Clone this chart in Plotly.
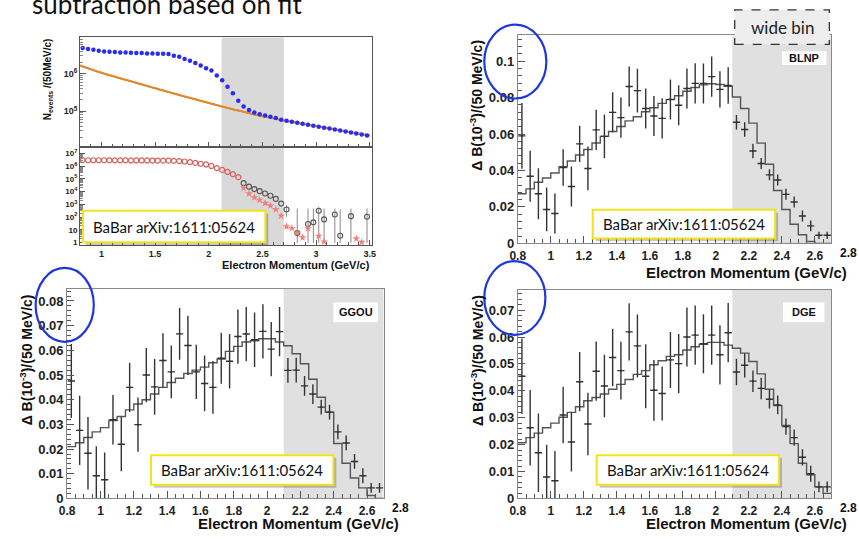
import numpy as np
import plotly.graph_objects as go

W, H = 859, 539
def X(px): return px / W
def Y(py): return 1 - py / H

# ---------------- top-left: spectrum + fit (log) ----------------
tl_centers = np.round(0.825 + 0.05 * np.arange(54), 3)
blue_counts = [4.84e6, 4.55e6, 4.37e6, 4.11e6, 3.95e6, 3.87e6, 3.79e6, 3.72e6, 3.72e6, 3.64e6,
               3.57e6, 3.57e6, 3.50e6, 3.50e6, 3.43e6, 3.43e6, 3.36e6,
               3.03e6, 2.86e6, 2.48e6, 2.24e6, 1.95e6, 1.66e6, 1.41e6, 1.22e6, 9.0e5, 6.7e5,
               4.5e5, 3.0e5, 1.9e5, 1.33e5, 1.08e5, 9.2e4, 8.3e4, 7.7e4, 7.1e4, 6.55e4, 5.9e4,
               5.57e4, 5.24e4, 4.93e4, 4.64e4, 4.37e4, 4.11e4, 3.87e4, 3.64e4, 3.43e4, 3.23e4,
               3.04e4, 2.86e4, 2.69e4, 2.53e4, 2.38e4, 2.24e4]
fit_x = [0.8, 1.0, 1.25, 1.5, 1.75, 2.0, 2.25, 2.5, 2.75, 3.0, 3.25, 3.5]
fit_y = [1.66e6, 1.06e6, 6.6e5, 4.1e5, 2.6e5, 1.65e5, 1.08e5, 7.3e4, 5.3e4, 4.0e4, 3.0e4, 2.25e4]

red_counts = [3.1e6, 3.0e6, 3.0e6, 3.0e6, 3.0e6, 2.95e6, 2.95e6, 2.95e6, 2.95e6, 2.9e6,
              2.9e6, 2.9e6, 2.9e6, 2.85e6, 2.85e6, 2.8e6, 2.8e6, 2.7e6, 2.6e6, 2.4e6,
              2.15e6, 1.85e6, 1.6e6, 1.4e6, 1.07e6, 7.2e5, 5.2e5, 3.6e5, 2.4e5, 1.4e5]
black_x = [2.325, 2.375, 2.425, 2.475, 2.525, 2.575, 2.625, 2.675, 2.725, 2.825, 2.925,
           2.975, 3.025, 3.075, 3.175, 3.225, 3.325, 3.475]
black_y = [4.7e4, 2.5e4, 1.6e4, 1.1e4, 7.2e3, 4.8e3, 2.7e3, 1.15e3, 390, 5.4, 28, 38, 310,
           65, 160, 3.3, 117, 105]
black_top = [4.7e4, 2.5e4, 1.6e4, 1.1e4, 7.2e3, 4.8e3, 2.7e3, 1.15e3, 850, 470, 470, 470,
             600, 470, 470, 400, 470, 470]
black_bot = [4.7e4, 2.5e4, 1.6e4, 1.1e4, 7.2e3, 4.8e3, 2.7e3, 1.15e3, 105, 0.9, 0.9, 0.9,
             0.9, 0.9, 0.9, 0.9, 0.9, 0.9]
star_x = [2.325, 2.375, 2.425, 2.475, 2.525, 2.575, 2.625, 2.675, 2.725, 2.775, 2.825,
          2.875, 2.925, 3.025, 3.075, 3.375, 3.425]
star_y = [2.0e4, 7.1e3, 3.5e3, 2.2e3, 1.26e3, 790, 400, 126, 17.8, 13.2, 5.4, 2.4, 12.6,
          3.2, 1.12, 2.0, 1.05]

# ---------------- unfolded spectra (0.8 - 2.7 GeV, 50 MeV bins) ----------------
edges = np.round(np.arange(0.8, 2.7001, 0.05), 3)
centers = np.round(edges[:-1] + 0.025, 3)

blnp_pts = [0.0590, 0.0368, 0.0272, 0.0186, 0.0164, 0.0416, 0.0312, 0.0546, 0.0411, 0.0623,
            0.0587, 0.0719, 0.0690, 0.0861, 0.0838, 0.0740, 0.0699, 0.0686, 0.0790, 0.0758,
            0.0850, 0.0878, 0.0877, 0.0915, 0.0845, 0.0866, 0.0665, 0.0625, 0.0507, 0.0438,
            0.0376, 0.0348, 0.0269, 0.0227, 0.0150, 0.0096, 0.0044, 0.0044]
blnp_err = [0.018, 0.014, 0.014, 0.012, 0.011, 0.010, 0.011, 0.010, 0.012, 0.011, 0.012, 0.011,
            0.011, 0.011, 0.012, 0.011, 0.011, 0.011, 0.011, 0.011, 0.011, 0.011, 0.011, 0.011,
            0.010, 0.010, 0.004, 0.004, 0.004, 0.003, 0.003, 0.003, 0.003, 0.003, 0.003, 0.003,
            0.002, 0.002]
blnp_hist = [0.0272, 0.0299, 0.0335, 0.0359, 0.0386, 0.0420, 0.0452, 0.0485, 0.0515, 0.0551,
             0.0587, 0.0614, 0.0641, 0.0672, 0.0695, 0.0722, 0.0744, 0.0768, 0.0789, 0.0810,
             0.0835, 0.0855, 0.0870, 0.0876, 0.0872, 0.0862, 0.0803, 0.0740, 0.0660, 0.0550,
             0.0434, 0.0290, 0.0186, 0.0105, 0.0047, 0.0010, 0.0, 0.0]

ggou_pts = [0.0476, 0.0276, 0.0183, 0.0092, 0.0076, 0.0319, 0.0220, 0.0450, 0.0299, 0.0500,
            0.0452, 0.0559, 0.0513, 0.0667, 0.0620, 0.0513, 0.0466, 0.0450, 0.0568, 0.0556,
            0.0656, 0.0666, 0.0643, 0.0677, 0.0605, 0.0676, 0.0519, 0.0520, 0.0456, 0.0423,
            0.0370, 0.0350, 0.0270, 0.0225, 0.0150, 0.0092, 0.0043, 0.0043]
ggou_err = [0.015, 0.014, 0.0147, 0.012, 0.011, 0.010, 0.011, 0.010, 0.011, 0.011, 0.0113,
            0.011, 0.0107, 0.0105, 0.012, 0.011, 0.0113, 0.0107, 0.0103, 0.011, 0.011, 0.011,
            0.011, 0.011, 0.011, 0.010, 0.005, 0.005, 0.004, 0.004, 0.003, 0.003, 0.003, 0.003,
            0.003, 0.003, 0.002, 0.002]
ggou_hist = [0.0210, 0.0226, 0.0247, 0.0270, 0.0287, 0.0316, 0.0332, 0.0359, 0.0383, 0.0400,
             0.0423, 0.0450, 0.0470, 0.0487, 0.0506, 0.0520, 0.0532, 0.0550, 0.0565, 0.0596,
             0.0616, 0.0634, 0.0639, 0.0647, 0.0647, 0.0634, 0.0619, 0.0586, 0.0546, 0.0483,
             0.0410, 0.0350, 0.0223, 0.0143, 0.0083, 0.0043, 0.0012, 0.0]

dge_pts = [0.0454, 0.0263, 0.0170, 0.0080, 0.0066, 0.0310, 0.0210, 0.0434, 0.0277, 0.0473,
           0.0418, 0.0524, 0.0475, 0.0619, 0.0567, 0.0454, 0.0402, 0.0390, 0.0515, 0.0501,
           0.0600, 0.0607, 0.0575, 0.0607, 0.0534, 0.0616, 0.0470, 0.0495, 0.0436, 0.0409,
           0.0369, 0.0348, 0.0267, 0.0226, 0.0153, 0.0092, 0.0043, 0.0043]
dge_err = [0.014, 0.014, 0.0146, 0.012, 0.011, 0.0105, 0.011, 0.011, 0.0116, 0.011, 0.0116,
           0.0107, 0.0107, 0.0106, 0.0117, 0.0119, 0.0113, 0.010, 0.0104, 0.011, 0.011, 0.011,
           0.011, 0.011, 0.011, 0.011, 0.0049, 0.0045, 0.004, 0.004, 0.0035, 0.0035, 0.003,
           0.003, 0.003, 0.003, 0.002, 0.002]
dge_hist = [0.0207, 0.0226, 0.0243, 0.0263, 0.0280, 0.0302, 0.0320, 0.0341, 0.0363, 0.0375,
            0.0388, 0.0406, 0.0424, 0.0442, 0.0461, 0.0475, 0.0497, 0.0512, 0.0528, 0.0534,
            0.0552, 0.0564, 0.0573, 0.0580, 0.0580, 0.0570, 0.0558, 0.0540, 0.0509, 0.0463,
            0.0406, 0.0345, 0.0271, 0.0204, 0.0131, 0.0088, 0.0043, 0.0019]

panel_labels = ["BLNP", "GGOU", "DGE"]
x_tick_labels = ["1", "1.5", "2", "2.5", "3", "3.5"]
ref_text = "BaBar arXiv:1611:05624"
title_text = "subtraction based on fit"
x_title = "Electron Momentum (GeV/c)"
y_title = "Δ B(10<sup>-3</sup>)/(50 MeV/c)"

ROOT = "Liberation Sans"
SLIDE = "Lato"
INK = "#333333"

fig = go.Figure()

# top-left upper
fig.add_trace(go.Scatter(x=fit_x, y=fit_y, mode="lines", line=dict(color="#3aa040", width=1.5, shape="spline"),
                         xaxis="x", yaxis="y", showlegend=False))
fig.add_trace(go.Scatter(x=fit_x, y=fit_y, mode="lines", line=dict(color="#e8862a", width=2, shape="spline"),
                         xaxis="x", yaxis="y", showlegend=False))
fig.add_trace(go.Scatter(x=tl_centers, y=blue_counts, mode="markers",
                         marker=dict(color="#2a2cf0", size=4.5), xaxis="x", yaxis="y", showlegend=False))
# top-left lower
fig.add_trace(go.Scatter(x=tl_centers[:len(red_counts)], y=red_counts, mode="markers",
                         marker=dict(symbol="circle-open", color="#d4605a", size=5, line=dict(width=1.2)),
                         xaxis="x2", yaxis="y2", showlegend=False))
b_hi = [t - v for t, v in zip(black_top, black_y)]
b_lo = [v - b for v, b in zip(black_y, black_bot)]
fig.add_trace(go.Scatter(x=black_x, y=black_y, mode="markers",
                         marker=dict(symbol="circle-open", color="#555555", size=5, line=dict(width=1.1)),
                         error_y=dict(type="data", array=b_hi, arrayminus=b_lo, color="#888888", thickness=1, width=0),
                         xaxis="x2", yaxis="y2", showlegend=False))
fig.add_trace(go.Scatter(x=star_x, y=star_y, mode="markers",
                         marker=dict(symbol="star", color="#f0807a", size=6),
                         xaxis="x2", yaxis="y2", showlegend=False))

# three unfolded panels
for pts, err, hist, xa, ya in [(blnp_pts, blnp_err, blnp_hist, "x3", "y3"),
                               (ggou_pts, ggou_err, ggou_hist, "x4", "y4"),
                               (dge_pts, dge_err, dge_hist, "x5", "y5")]:
    fig.add_trace(go.Scatter(x=edges, y=list(hist) + [hist[-1]], mode="lines",
                             line=dict(color="#555555", width=1.4, shape="hv"),
                             xaxis=xa, yaxis=ya, showlegend=False))
    fig.add_trace(go.Scatter(x=centers, y=pts, mode="markers", marker=dict(size=2, color=INK),
                             error_y=dict(type="data", array=err, color=INK, thickness=1.4, width=0),
                             error_x=dict(type="constant", value=0.022, color=INK, thickness=1.4, width=0),
                             xaxis=xa, yaxis=ya, showlegend=False))

def ax_common(**kw):
    d = dict(showline=True, linecolor="#888888", linewidth=1, mirror=True, ticks="inside",
             ticklen=7, tickcolor="#555555", showgrid=False, zeroline=False,
             tickfont=dict(family=ROOT, size=13, color="#222222", weight="bold"))
    d.update(kw)
    return d

def log_minor(lo, hi):
    return [m * 10 ** e for e in range(lo, hi) for m in range(2, 10)]

BIGX = dict(family=ROOT, size=12, color="#222222", weight="bold")
tl_font = dict(family=ROOT, size=9, color="#222222", weight="bold")
fig.update_layout(
    width=W, height=H, autosize=False, margin=dict(l=0, r=0, t=0, b=0),
    paper_bgcolor="white", plot_bgcolor="white",
    xaxis=ax_common(domain=[X(73), X(369)], range=[0.8, 3.52], anchor="y", showticklabels=False,
                    tickvals=[1, 1.5, 2, 2.5, 3, 3.5], ticklen=5, linecolor="#555555",
                    minor=dict(ticks="inside", ticklen=3, dtick=0.1, tickcolor="#555555")),
    yaxis=ax_common(domain=[Y(149), Y(38)], type="log", range=[4.05, 6.97], anchor="x",
                    tickvals=[1e5, 1e6], ticktext=["10<sup>5</sup>", "10<sup>6</sup>"], ticklen=6,
                    linecolor="#555555", tickfont=tl_font,
                    minor=dict(ticks="inside", ticklen=3, tickcolor="#888888", tickvals=log_minor(4, 7))),
    xaxis2=ax_common(domain=[X(73), X(369)], range=[0.8, 3.52], anchor="y2",
                     tickvals=[1, 1.5, 2, 2.5, 3, 3.5], ticktext=x_tick_labels, ticklen=5,
                     linecolor="#555555", tickfont=tl_font,
                     minor=dict(ticks="inside", ticklen=3, dtick=0.1, tickcolor="#555555")),
    yaxis2=ax_common(domain=[Y(249), Y(149)], type="log", range=[-0.23, 7.54], anchor="x2",
                     tickvals=[1, 10, 1e2, 1e3, 1e4, 1e5, 1e6, 1e7],
                     ticktext=["1", "10", "10<sup>2</sup>", "10<sup>3</sup>", "10<sup>4</sup>",
                               "10<sup>5</sup>", "10<sup>6</sup>", "10<sup>7</sup>"],
                     ticklen=5, linecolor="#555555", tickfont=dict(family=ROOT, size=8, color="#222222", weight="bold"),
                     minor=dict(ticks="inside", ticklen=3, tickcolor="#888888", tickvals=log_minor(0, 7))),
    xaxis3=ax_common(domain=[X(517), X(835)], range=[0.8, 2.7], anchor="y3", tick0=0.8, dtick=0.2,
                     tickfont=BIGX, ticklabelstandoff=1,
                     minor=dict(ticks="inside", ticklen=4, dtick=0.05, tickcolor="#555555")),
    yaxis3=ax_common(domain=[Y(247), Y(36)], range=[0, 0.1141], anchor="x3", tick0=0, dtick=0.02,
                     minor=dict(ticks="inside", ticklen=4, dtick=0.004, tickcolor="#555555")),
    xaxis4=ax_common(domain=[X(60), X(381)], range=[0.8, 2.7], anchor="y4", tick0=0.8, dtick=0.2,
                     tickfont=BIGX, ticklabelstandoff=1,
                     minor=dict(ticks="inside", ticklen=4, dtick=0.05, tickcolor="#555555")),
    yaxis4=ax_common(domain=[Y(506), Y(293)], range=[0, 0.085], anchor="x4", tick0=0, dtick=0.01,
                     minor=dict(ticks="inside", ticklen=4, dtick=0.002, tickcolor="#555555")),
    xaxis5=ax_common(domain=[X(517), X(835)], range=[0.8, 2.7], anchor="y5", tick0=0.8, dtick=0.2,
                     tickfont=BIGX, ticklabelstandoff=1,
                     minor=dict(ticks="inside", ticklen=4, dtick=0.05, tickcolor="#555555")),
    yaxis5=ax_common(domain=[Y(506), Y(294)], range=[0, 0.0776], anchor="x5", tick0=0, dtick=0.01,
                     minor=dict(ticks="inside", ticklen=4, dtick=0.002, tickcolor="#555555")),
)

shapes = []
# grey bands
shapes.append(dict(type="rect", xref="x", yref="paper", x0=2.12, x1=2.7, y0=Y(249), y1=Y(38),
                   fillcolor="#d9d9d9", line=dict(width=0), layer="below"))
for xa in ["x3", "x4", "x5"]:
    ya = xa.replace("x", "y")
    shapes.append(dict(type="rect", xref=xa, yref=f"{ya} domain", x0=2.1, x1=2.7, y0=0, y1=1,
                       fillcolor="#e0e0e0", line=dict(width=0), layer="below"))

def babar_box(x0, y0, x1, y1):
    shapes.append(dict(type="rect", xref="paper", yref="paper", x0=X(x0 + 3), x1=X(x1 + 3),
                       y0=Y(y1 + 3), y1=Y(y0 + 3), fillcolor="rgba(0,0,0,0.22)", line=dict(width=0)))
    shapes.append(dict(type="rect", xref="paper", yref="paper", x0=X(x0), x1=X(x1),
                       y0=Y(y1), y1=Y(y0), fillcolor="white", line=dict(color="#f2e21c", width=2)))
    return ((x0 + x1) / 2, (y0 + y1) / 2)

babar_centers = [babar_box(76, 214, 261, 246), babar_box(593, 213, 778, 242),
                 babar_box(145, 462, 330, 492), babar_box(597, 462, 782, 492)]

# panel label boxes
label_boxes = [(785, 52, 830, 66), (330, 307, 375, 327), (786, 307, 828, 327)]
for (x0, y0, x1, y1) in label_boxes:
    shapes.append(dict(type="rect", xref="paper", yref="paper", x0=X(x0), x1=X(x1), y0=Y(y1), y1=Y(y0),
                       fillcolor="white", line=dict(width=0)))

# wide bin box
shapes.append(dict(type="rect", xref="paper", yref="paper", x0=X(737), x1=X(833), y0=Y(45), y1=Y(10),
                   fillcolor="#ededed", line=dict(color="#333333", width=1.3, dash="dash")))

# blue ellipses
for (x0, y0, x1, y1) in [(483, 25, 546, 100), (28, 272, 87, 347), (483, 265, 545, 340)]:
    shapes.append(dict(type="circle", xref="paper", yref="paper", x0=X(x0), x1=X(x1), y0=Y(y1), y1=Y(y0),
                       line=dict(color="#2038d8", width=2.2), fillcolor="rgba(0,0,0,0)"))
fig.update_layout(shapes=shapes)

ann = []
def txt(text, px, py, size, family=ROOT, bold=True, angle=0, xanchor="center", color="#111111"):
    f = dict(family=family, size=size, color=color)
    if bold:
        f["weight"] = "bold"
    ann.append(dict(text=text, x=X(px), y=Y(py), xref="paper", yref="paper", showarrow=False,
                    xanchor=xanchor, yanchor="middle", font=f, textangle=angle))

txt(title_text, 22, 4, 26, family=SLIDE, bold=False, xanchor="left")
txt("wide bin", 785, 28, 17, family=SLIDE, bold=False, color="#222222")
for (cx, cy) in babar_centers:
    txt(ref_text, cx, cy, 15, family=SLIDE, bold=False, color="#111111")
for lab, (x0, y0, x1, y1) in zip(panel_labels, label_boxes):
    txt(lab, (x0 + x1) / 2, (y0 + y1) / 2, 11)
# axis titles
txt(x_title, 369, 269, 11, xanchor="right")
txt("N<sub>events</sub> /(50MeV/c)", 40, 80, 10, angle=-90)
txt(x_title, 853, 277, 15, xanchor="right")
txt(x_title, 399, 531, 15, xanchor="right")
txt(x_title, 853, 531, 15, xanchor="right")
txt(y_title, 475, 107, 14, angle=-90)
txt(y_title, 18, 365, 14, angle=-90)
txt(y_title, 475, 366, 14, angle=-90)
# "2.8" end labels
txt("2.8", 852, 257, 12)
txt("2.8", 398, 516, 12)
txt("2.8", 852, 516, 12)
fig.update_layout(annotations=ann)

fig.write_html("out.html")
